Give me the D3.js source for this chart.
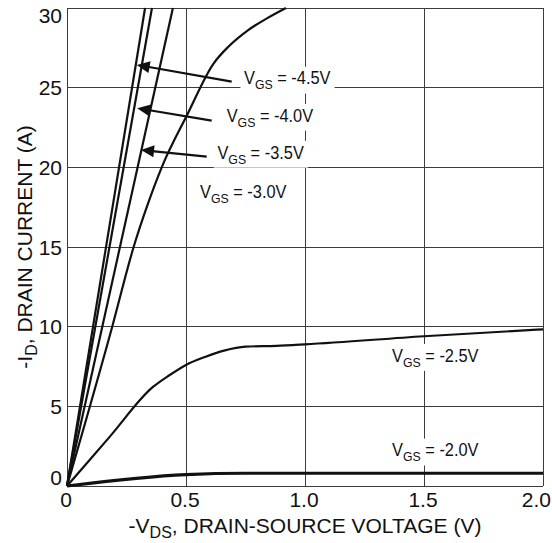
<!DOCTYPE html>
<html>
<head>
<meta charset="utf-8">
<script src="https://cdn.jsdelivr.net/npm/d3@7"></script>
<style>
body { margin: 0; background: #fff; }
svg text { font-family: "Liberation Sans", Arial, Helvetica, sans-serif; fill: #111; white-space: pre; }
</style>
</head>
<body>
<div id="chart"></div>
<script>
// Chart is 552 x 543 px.
var width = 552;
var height = 543;
var margin = { left: 67, right: 9, top: 8, bottom: 57 };

// Axis ticks.
var xTicks = [0, 0.5, 1.0, 1.5, 2.0];
var xTickLabels = ["0", "0.5", "1.0", "1.5", "2.0"];
var yTicks = [0, 5, 10, 15, 20, 25, 30];
var yTickLabels = ["0", "5", "10", "15", "20", "25", "30"];

// Curves as [-VDS (V), -ID (A)].
var vgs45 = [[0, 0], [0.328, 30]];
var vgs40 = [[0, 0], [0.357, 30]];
var vgs35 = [[0, 0], [0.445, 30]];
var vgs30 = [[0, 0], [0.19, 10], [0.28, 15], [0.335, 17.5], [0.398, 20], [0.505, 23.3],
             [0.615, 26.5], [0.68, 27.6], [0.76, 28.6], [0.84, 29.35], [0.92, 30]];
var vgs25 = [[0, 0], [0.18, 3.1], [0.36, 6.2], [0.43, 6.95], [0.5, 7.6], [0.58, 8.1],
             [0.66, 8.5], [0.75, 8.75], [0.88, 8.8], [1.0, 8.89], [1.5, 9.4], [2.0, 9.83]];
var vgs20 = [[0, 0], [0.5, 0.72], [0.75, 0.8], [2.0, 0.8]];

// Curve labels and where they sit (data units, left end of baseline).
var labelValues = ["-4.5V", "-4.0V", "-3.5V", "-3.0V", "-2.5V", "-2.0V"];
var labelAt = [[0.744, 25.2], [0.671, 22.87], [0.632, 20.55], [0.559, 18.08], [1.366, 7.8], [1.366, 1.86]];

// Arrows from the first three labels to their lines (data units).
var arrowFrom = [[0.692, 25.38], [0.608, 22.93], [0.587, 20.67]];
var arrowTo = [[0.293, 26.43], [0.295, 23.71], [0.311, 21.09]];

var svg = d3.select('#chart')
	.append('svg')
	.attr('width', width)
	.attr('height', height);

var x = d3.scaleLinear().domain([0, 2]).range([margin.left, width - margin.right]);
var y = d3.scaleLinear().domain([0, 30]).range([height - margin.bottom, margin.top]);

// Grid (the frame is part of it).
var grid = svg.append('g')
	.attr('stroke', '#3c3c3c')
	.attr('stroke-width', 1)
	.attr('shape-rendering', 'crispEdges');

grid.selectAll('.vline')
	.data(xTicks)
	.enter()
	.append('line')
	.attr('x1', function(d) { return x(d); })
	.attr('x2', function(d) { return x(d); })
	.attr('y1', y(0))
	.attr('y2', y(30));

grid.selectAll('.hline')
	.data(yTicks)
	.enter()
	.append('line')
	.attr('x1', x(0))
	.attr('x2', x(2))
	.attr('y1', function(d) { return y(d); })
	.attr('y2', function(d) { return y(d); });

// Tick labels.  Outer ones are nudged inside like the original.
svg.selectAll('.ytick')
	.data(yTicks)
	.enter()
	.append('text')
	.attr('x', margin.left - 5)
	.attr('y', function(d) { return y(d); })
	.attr('dy', function(d, i) {
		if (i === 0) return '-0.05em';
		if (i === yTicks.length - 1) return '0.7em';
		return '0.36em';
	})
	.attr('text-anchor', 'end')
	.attr('font-size', 21)
	.text(function(d, i) { return yTickLabels[i]; });

svg.selectAll('.xtick')
	.data(xTicks)
	.enter()
	.append('text')
	.attr('x', function(d, i) { return i === xTicks.length - 1 ? width - 1 : x(d) - 1; })
	.attr('y', y(0) + 21)
	.attr('text-anchor', function(d, i) { return i === xTicks.length - 1 ? 'end' : 'middle'; })
	.attr('font-size', 21)
	.text(function(d, i) { return xTickLabels[i]; });

// Axis titles with subscripts.
var xTitle = svg.append('text')
	.attr('x', 305)
	.attr('y', height - 10)
	.attr('text-anchor', 'middle')
	.attr('font-size', 21);
xTitle.append('tspan').text('-V');
xTitle.append('tspan').attr('dy', 5).attr('font-size', 16).text('DS');
xTitle.append('tspan').attr('dy', -5).text(', DRAIN-SOURCE VOLTAGE (V)');

var yTitle = svg.append('text')
	.attr('transform', 'translate(32,' + ((y(0) + y(30)) / 2) + ') rotate(-90)')
	.attr('text-anchor', 'middle')
	.attr('font-size', 21);
yTitle.append('tspan').text('-I');
yTitle.append('tspan').attr('dy', 5).attr('font-size', 16).text('D');
yTitle.append('tspan').attr('dy', -5).text(', DRAIN CURRENT (A)');

// Labels with white boxes behind them (they hide the grid).
labelValues.forEach(function(v, i) {
	var g = svg.append('g')
		.attr('transform', 'translate(' + x(labelAt[i][0]) + ',' + y(labelAt[i][1]) + ')')
		.append('g')
		.attr('transform', 'scale(0.91,1)');
	var t = g.append('text').attr('font-size', 18);
	t.append('tspan').text('V');
	t.append('tspan').attr('dy', 5).attr('font-size', 13.5).text('GS');
	t.append('tspan').attr('dy', -5).text(' = ' + v);
	var b = t.node().getBBox();
	g.insert('rect', 'text')
		.attr('x', b.x - 4)
		.attr('y', b.y - 1)
		.attr('width', b.width + 8)
		.attr('height', b.height + 2)
		.attr('fill', '#fff');
});

// Curves.
var line = d3.line()
	.x(function(d) { return x(d[0]); })
	.y(function(d) { return y(d[1]); })
	.curve(d3.curveMonotoneX);

var curves = [vgs45, vgs40, vgs35, vgs30, vgs25, vgs20];
svg.selectAll('.curve')
	.data(curves)
	.enter()
	.append('path')
	.attr('d', line)
	.attr('fill', 'none')
	.attr('stroke', '#111')
	.attr('stroke-width', function(d, i) { return i === curves.length - 1 ? 3.2 : 2.2; })
	.attr('stroke-linejoin', 'round');

// Arrows.
arrowFrom.forEach(function(a, i) {
	var x0 = x(a[0]), y0 = y(a[1]);
	var x1 = x(arrowTo[i][0]), y1 = y(arrowTo[i][1]);
	var len = Math.hypot(x1 - x0, y1 - y0);
	var ux = (x1 - x0) / len, uy = (y1 - y0) / len;
	var headLen = 13, headHalf = 6;
	var bx = x1 - ux * headLen, by = y1 - uy * headLen;
	svg.append('line')
		.attr('x1', x0).attr('y1', y0)
		.attr('x2', bx + ux * 2).attr('y2', by + uy * 2)
		.attr('stroke', '#111')
		.attr('stroke-width', 2.2);
	svg.append('path')
		.attr('d', 'M' + x1 + ',' + y1 +
			'L' + (bx - uy * headHalf) + ',' + (by + ux * headHalf) +
			'L' + (bx + uy * headHalf) + ',' + (by - ux * headHalf) + 'Z')
		.attr('fill', '#111');
});
</script>
</body>
</html>
